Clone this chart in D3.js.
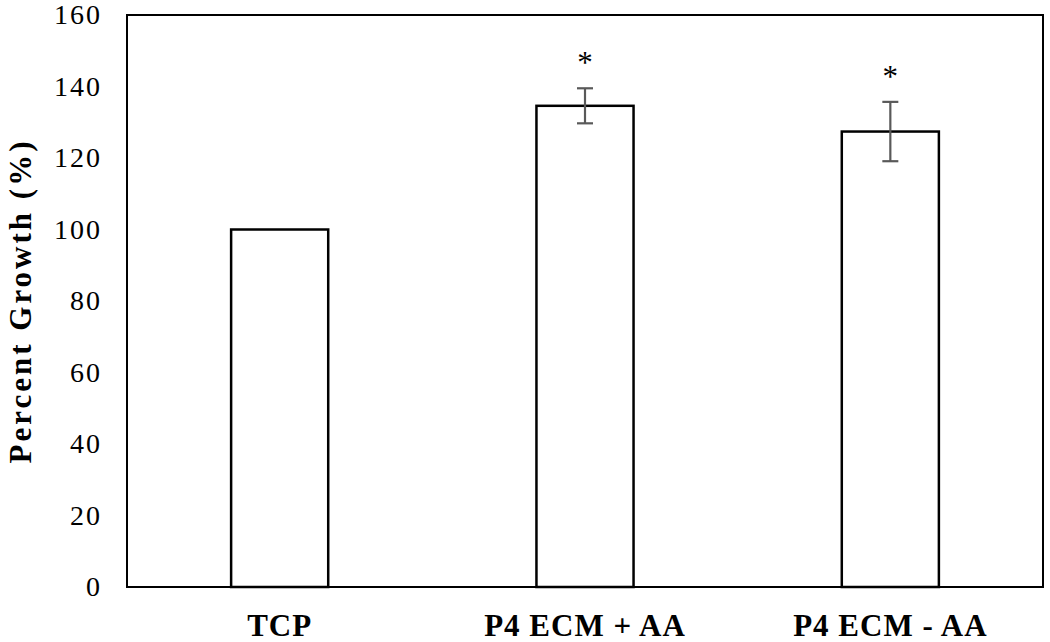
<!DOCTYPE html>
<html>
<head>
<meta charset="utf-8">
<script src="https://cdn.jsdelivr.net/npm/d3@7"></script>
<style>
  body { margin: 0; background: #fff; }
  svg text { font-family: "Liberation Serif", "Times New Roman", serif; }
</style>
</head>
<body>
<svg id="chart"></svg>
<script>
const categories = ["TCP", "P4 ECM + AA", "P4 ECM - AA"];
const values = [100, 134.6, 127.4];
const errors = [0, 4.9, 8.3];
const marks = ["", "*", "*"];
const yTicks = [0, 20, 40, 60, 80, 100, 120, 140, 160];

const width = 1050;
const height = 642;
const margin = { top: 15, right: 7, bottom: 55, left: 127 };

const svg = d3.select("#chart")
  .attr("width", width)
  .attr("height", height);

const x = d3.scaleBand()
  .domain(categories)
  .range([margin.left, width - margin.right])
  .paddingInner(0.682)
  .paddingOuter(0.341);

const y = d3.scaleLinear()
  .domain([0, 160])
  .range([height - margin.bottom, margin.top]);

// frame
svg.append("rect")
  .attr("x", margin.left)
  .attr("y", margin.top)
  .attr("width", width - margin.left - margin.right)
  .attr("height", height - margin.top - margin.bottom)
  .attr("fill", "none")
  .attr("stroke", "black")
  .attr("stroke-width", 2);

// y axis labels
const yAxis = svg.append("g")
  .attr("transform", `translate(${margin.left},0)`)
  .call(d3.axisLeft(y).tickValues(yTicks).tickSize(0).tickPadding(25));
yAxis.select(".domain").remove();
yAxis.selectAll("text")
  .attr("font-family", "Liberation Serif, Times New Roman, serif")
  .attr("font-size", 28)
  .attr("letter-spacing", 2)
  .attr("fill", "black");

// x axis labels
const xAxis = svg.append("g")
  .attr("transform", `translate(0,${height - margin.bottom})`)
  .call(d3.axisBottom(x).tickSize(0).tickPadding(27));
xAxis.select(".domain").remove();
xAxis.selectAll("text")
  .attr("font-family", "Liberation Serif, Times New Roman, serif")
  .attr("font-size", 31)
  .attr("letter-spacing", 1)
  .attr("font-weight", "bold")
  .attr("fill", "black");

// bars
svg.selectAll("rect.bar")
  .data(categories)
  .join("rect")
  .attr("class", "bar")
  .attr("x", d => x(d))
  .attr("y", (d, i) => y(values[i]))
  .attr("width", x.bandwidth())
  .attr("height", (d, i) => y(0) - y(values[i]))
  .attr("fill", "white")
  .attr("stroke", "black")
  .attr("stroke-width", 2.5);

// error bars
const cap = 8;
const err = svg.append("g")
  .attr("stroke", "#595959")
  .attr("stroke-width", 2.2);
categories.forEach((c, i) => {
  if (!errors[i]) return;
  const cx = x(c) + x.bandwidth() / 2;
  const top = y(values[i] + errors[i]);
  const bot = y(values[i] - errors[i]);
  err.append("line").attr("x1", cx).attr("x2", cx).attr("y1", top).attr("y2", bot);
  err.append("line").attr("x1", cx - cap).attr("x2", cx + cap).attr("y1", top).attr("y2", top);
  err.append("line").attr("x1", cx - cap).attr("x2", cx + cap).attr("y1", bot).attr("y2", bot);
});

// significance marks
svg.selectAll("text.mark")
  .data(categories)
  .join("text")
  .attr("class", "mark")
  .attr("x", d => x(d) + x.bandwidth() / 2)
  .attr("y", (d, i) => y(values[i] + errors[i]) - 15)
  .attr("text-anchor", "middle")
  .attr("font-size", 31)
  .text((d, i) => marks[i]);

// y axis title
svg.append("text")
  .attr("transform", `translate(31,${(margin.top + height - margin.bottom) / 2}) rotate(-90)`)
  .attr("text-anchor", "middle")
  .attr("font-size", 31)
  .attr("letter-spacing", 3)
  .attr("font-weight", "bold")
  .text("Percent Growth (%)");
</script>
</body>
</html>
